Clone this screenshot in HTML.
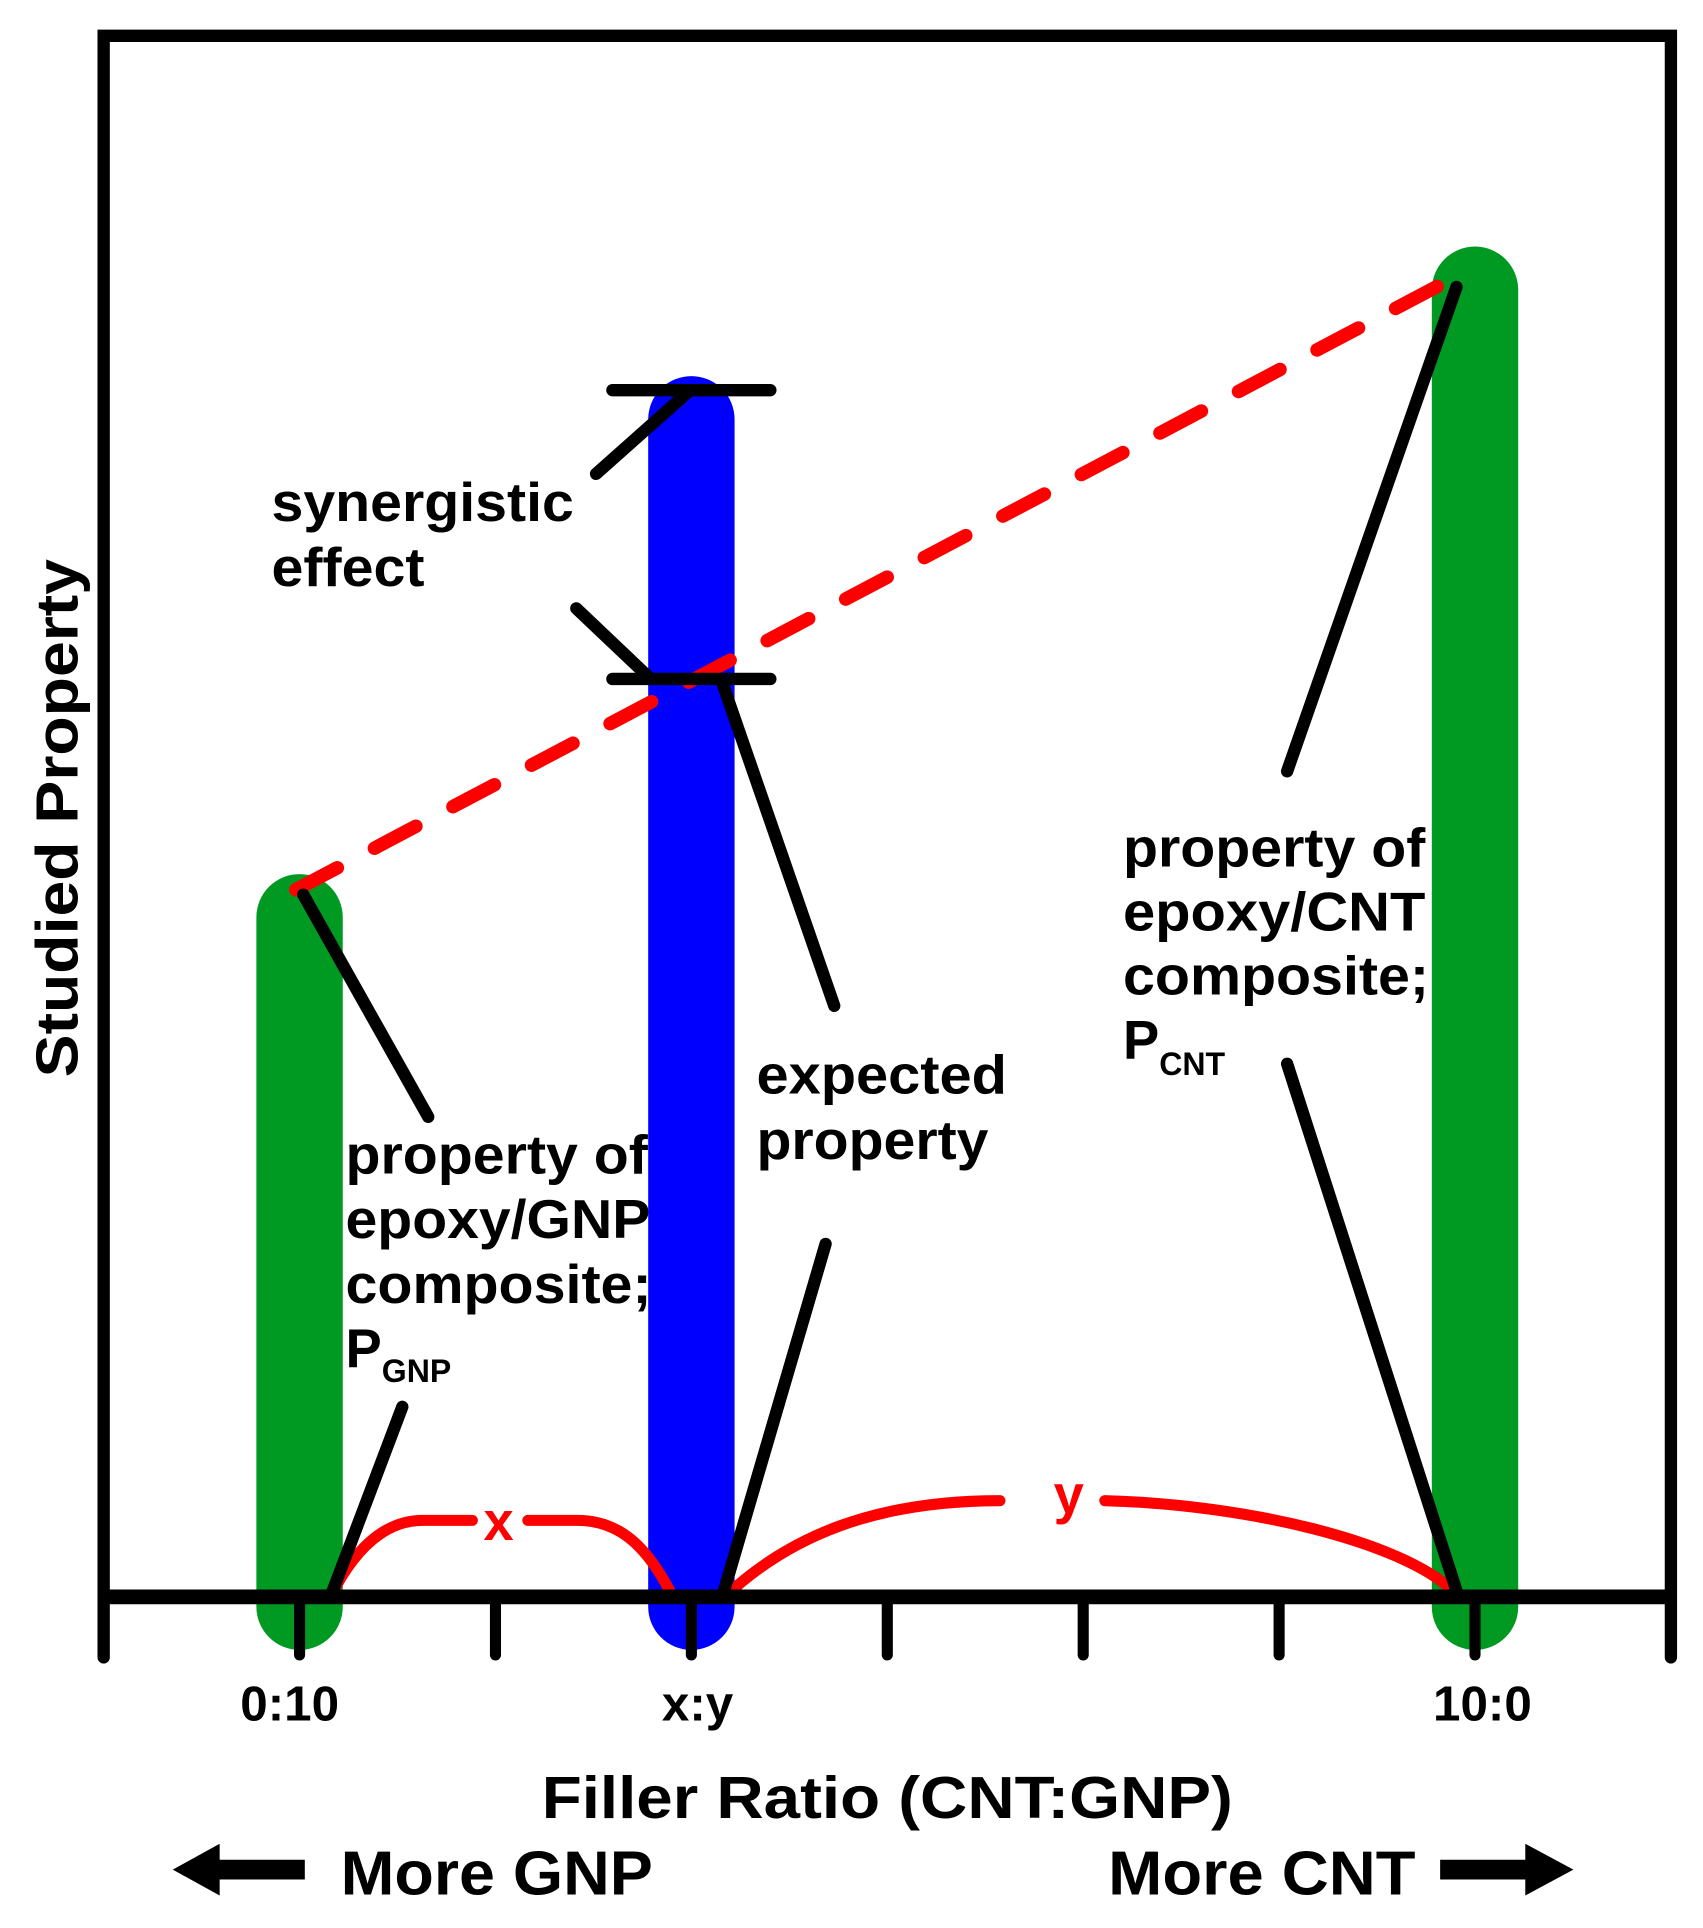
<!DOCTYPE html>
<html><head><meta charset="utf-8"><style>
html,body{margin:0;padding:0;background:#fff;width:1703px;height:1928px;overflow:hidden}
svg{display:block}
text{font-family:"Liberation Sans",Arial,sans-serif;font-weight:bold;fill:#000}
</style></head><body>
<svg id="chart" width="1703" height="1928" viewBox="0 0 1380 1562.3" preserveAspectRatio="none" xmlns="http://www.w3.org/2000/svg">
<g id="marks"></g>
<g id="frame"></g>
<g id="labels"></g>
</svg>
<script>
// ---- data ----
const categories = ["0:10", "x:y", "10:0"];
const categoryTickIndex = [1, 3, 7];
const barValues = [46.3, 78.2, 86.5];
const barColors = ["#009922", "#0000ff", "#009922"];
const expectedValue = 58.8;
const synergyValue = 77.3;
const lineStartValue = 45.3;
const lineEndValue = 85.1;
const tickCount = 9;

// ---- axes ----
const X0 = 84, X1 = 1354, Y0 = 1294, YTOP = 29;
function xScale(i){ return X0 + (X1 - X0) * i / (tickCount - 1); }
function yScale(v){ return Y0 - (Y0 - YTOP) * v / 100; }

const NS = "http://www.w3.org/2000/svg";
function mk(parent, tag, attrs){
  const e = document.createElementNS(NS, tag);
  for (const k in attrs) e.setAttribute(k, attrs[k]);
  parent.appendChild(e); return e;
}
const marks = document.getElementById('marks');
const frame = document.getElementById('frame');
const labels = document.getElementById('labels');

categories.forEach((c, i) => {
  const x = xScale(categoryTickIndex[i]);
  const b = mk(marks, 'line', {x1:x, y1:yScale(barValues[i]) + 35, x2:x, y2:Y0 + 8, stroke:barColors[i], 'stroke-width':70, 'stroke-linecap':'round'});
  
  
});

const xG = xScale(categoryTickIndex[0]), xB = xScale(categoryTickIndex[1]), xC = xScale(categoryTickIndex[2]);

const dl = mk(marks, 'line', {x1:xG - 3, y1:yScale(lineStartValue), x2:xC - 3, y2:yScale(lineEndValue), stroke:'#ff0000', 'stroke-width':11, 'stroke-dasharray':'38 34', 'stroke-linecap':'round'});



const cx = mk(marks, 'path', {d:`M${xG+25},${Y0} C${xG+45},${Y0-40} ${xG+70},${Y0-62} ${xG+100},${Y0-62} L${xG+140},${Y0-62} M${xG+185},${Y0-62} L${xG+225},${Y0-62} C${xG+260},${Y0-62} ${xB-35},${Y0-40} ${xB-15},${Y0}`, stroke:'#ff0000', 'stroke-width':9, fill:'none', 'stroke-linecap':'round'});


const cy = mk(marks, 'path', {d:`M${xB+27},${Y0} C${xB+80},${Y0-50} ${xB+150},${Y0-78} ${xB+250},${Y0-78} M${xB+335},${Y0-78} C${xB+450},${Y0-75} ${xC-60},${Y0-45} ${xC-18},${Y0-5}`, stroke:'#ff0000', 'stroke-width':9, fill:'none', 'stroke-linecap':'round'});



const ySyn = yScale(synergyValue), yExp = yScale(expectedValue);
const blk = [
  ['synergy-level-bar', xB-64, ySyn, xB+64, ySyn],
  ['expected-level-bar', xB-64, yExp, xB+64, yExp],
  ['synergy-leader-top', 483, 384, xB-1, ySyn],
  ['synergy-leader-bottom', 467, 493, xB-33, yExp],
  ['expected-leader-top', xB+24, yExp, 676, 815],
  ['expected-leader-bottom', xB+25, Y0, 669, 1008],
  ['gnp-leader-top', xG+3, yScale(lineStartValue)+4, 347, 905],
  ['gnp-leader-bottom', xG+25, Y0, 326, 1140],
  ['cnt-leader-top', 1043, 625, xC-15, yScale(lineEndValue)+15],
  ['cnt-leader-bottom', 1043, 862, xC-15, Y0-5]
];
blk.forEach(a => {
  const l = mk(marks, 'line', {x1:a[1], y1:a[2], x2:a[3], y2:a[4], stroke:'#000', 'stroke-width':10, 'stroke-linecap':'round'});
  
  
});

const fr = mk(frame, 'path', {d:`M${X0},1343 L${X0},${YTOP} L${X1},${YTOP} L${X1},1343`, stroke:'#000', 'stroke-width':10, fill:'none', 'stroke-linecap':'round'});


const ax = mk(frame, 'line', {x1:X0, y1:Y0, x2:X1, y2:Y0, stroke:'#000', 'stroke-width':12});


for (let i = 1; i < tickCount - 1; i++){
  const t = mk(frame, 'line', {x1:xScale(i), y1:Y0, x2:xScale(i), y2:1341, stroke:'#000', 'stroke-width':9, 'stroke-linecap':'round'});
  
  
}
categories.forEach((c, i) => {
  const t = mk(labels, 'text', {x:xScale(categoryTickIndex[i]) + (i===1?5:(i===0?-8:6)), y:1394, 'font-size':40, 'text-anchor':'middle'});
  t.textContent = c;
  
  
});

const aL = mk(frame, 'path', {d:'M140,1515 L178,1494 L178,1507 L247,1507 L247,1523 L178,1523 L178,1536 Z', fill:'#000'});


const aR = mk(frame, 'path', {d:'M1275,1515 L1236,1494 L1236,1507 L1167,1507 L1167,1523 L1236,1523 L1236,1536 Z', fill:'#000'});


</script>
<svg style="position:absolute;left:0;top:0" width="1703" height="1928" viewBox="0 0 1380 1562.3" preserveAspectRatio="none" xmlns="http://www.w3.org/2000/svg">
<text x="220" y="422" font-size="44" textLength="245" lengthAdjust="spacingAndGlyphs">synergistic</text>
<text x="220" y="475" font-size="44" textLength="124" lengthAdjust="spacingAndGlyphs">effect</text>
<text x="613" y="886" font-size="44" textLength="203" lengthAdjust="spacingAndGlyphs">expected</text>
<text x="613" y="939" font-size="44" textLength="188" lengthAdjust="spacingAndGlyphs">property</text>
<text x="280" y="951" font-size="44" textLength="245" lengthAdjust="spacingAndGlyphs">property of</text>
<text x="280" y="1003" font-size="44" textLength="247" lengthAdjust="spacingAndGlyphs">epoxy/GNP</text>
<text x="280" y="1056" font-size="44" textLength="248" lengthAdjust="spacingAndGlyphs">composite;</text>
<text x="280" y="1108" font-size="44">P<tspan font-size="26" dy="12">GNP</tspan></text>
<text x="910" y="702" font-size="44" textLength="245" lengthAdjust="spacingAndGlyphs">property of</text>
<text x="910" y="754" font-size="44" textLength="245" lengthAdjust="spacingAndGlyphs">epoxy/CNT</text>
<text x="910" y="806" font-size="44" textLength="248" lengthAdjust="spacingAndGlyphs">composite;</text>
<text x="910" y="858" font-size="44">P<tspan font-size="26" dy="13">CNT</tspan></text>
<text x="404" y="1248" font-size="44" text-anchor="middle" style="fill:#ff0000">x</text>
<text x="866" y="1226" font-size="44" text-anchor="middle" style="fill:#ff0000">y</text>
<text x="719" y="1473" font-size="48" text-anchor="middle" textLength="560" lengthAdjust="spacingAndGlyphs">Filler Ratio (CNT:GNP)</text>
<text x="276" y="1535" font-size="50" textLength="253" lengthAdjust="spacingAndGlyphs">More GNP</text>
<text x="898" y="1535" font-size="50" textLength="249" lengthAdjust="spacingAndGlyphs">More CNT</text>
<text transform="translate(63,663) rotate(-90)" font-size="48" text-anchor="middle" textLength="420" lengthAdjust="spacingAndGlyphs">Studied Property</text>
</svg>
</body></html>
